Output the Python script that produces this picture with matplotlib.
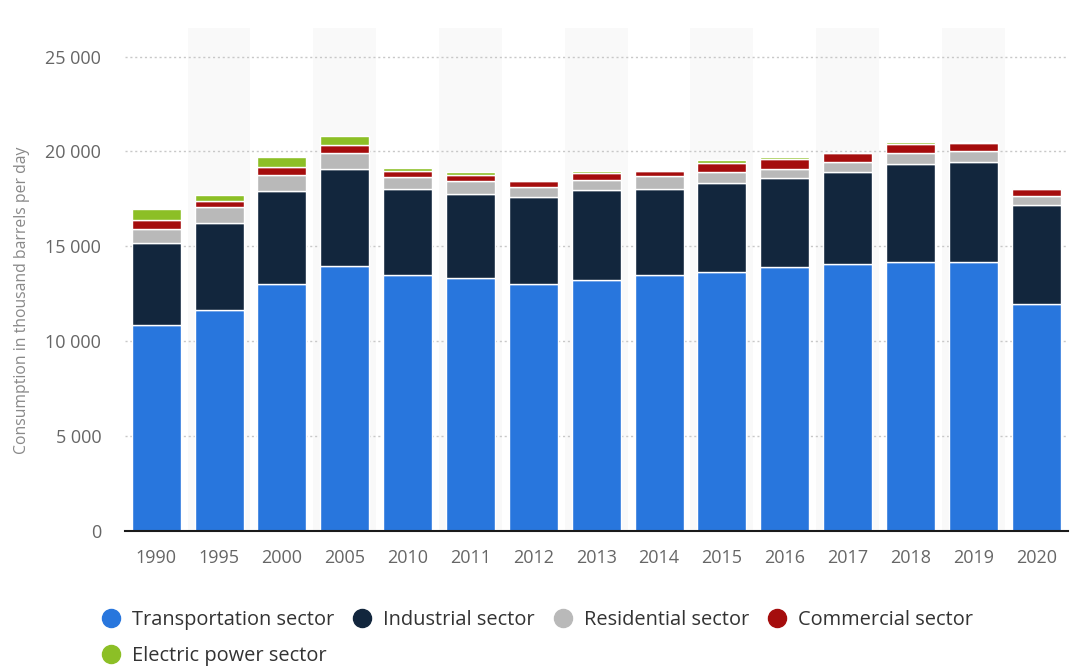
import matplotlib.pyplot as plt
from matplotlib.lines import Line2D
from matplotlib.ticker import FuncFormatter
import numpy as np

plt.rcParams['font.family'] = ['Open Sans', 'DejaVu Sans']

years = ['1990', '1995', '2000', '2005', '2010', '2011', '2012', '2013',
         '2014', '2015', '2016', '2017', '2018', '2019', '2020']

# thousand barrels per day
transportation = [10865, 11660, 13010, 13980, 13480, 13330, 13000, 13240,
                  13480, 13660, 13890, 14060, 14150, 14150, 11970]
industrial = [4310, 4570, 4920, 5115, 4555, 4450, 4610, 4710,
              4540, 4690, 4710, 4870, 5190, 5270, 5190]
residential = [740, 820, 810, 845, 635, 670, 490, 560,
               670, 580, 490, 490, 600, 580, 475]
commercial = [490, 340, 420, 400, 315, 315, 320, 330,
              300, 475, 510, 475, 475, 460, 405]
electric = [560, 300, 550, 475, 160, 160, 20, 140,
            30, 160, 120, 20, 105, 20, 10]

series = [
    ('Transportation sector', transportation, '#2876dd'),
    ('Industrial sector', industrial, '#12263d'),
    ('Residential sector', residential, '#b9b9b9'),
    ('Commercial sector', commercial, '#a50d0d'),
    ('Electric power sector', electric, '#8cbf26'),
]

fig = plt.figure(figsize=(10.85, 6.68), dpi=100)
ax = fig.add_axes([0.115, 0.205, 0.869, 0.753])

x = np.arange(len(years))

# alternating background columns
for i in x[1::2]:
    ax.axvspan(i - 0.5, i + 0.5, color='#f9f9f9', zorder=0, lw=0)

bottom = np.zeros(len(years))
for name, vals, col in series:
    ax.bar(x, vals, width=0.78, bottom=bottom, color=col, edgecolor='white',
           linewidth=1.0, zorder=3)
    bottom += np.array(vals)

ax.set_xlim(-0.5, len(years) - 0.5)
ax.set_ylim(0, 26500)
ax.set_yticks(range(0, 25001, 5000))
ax.yaxis.set_major_formatter(FuncFormatter(lambda v, p: f'{int(v):,}'.replace(',', ' ')))
ax.set_xticks(x)
ax.set_xticklabels(years)

ax.grid(axis='y', color='#c8c8c8', linestyle=(0, (1.5, 2)), linewidth=1, zorder=1)
for s in ['top', 'right', 'left']:
    ax.spines[s].set_visible(False)
ax.spines['bottom'].set_color('#1a1a1a')
ax.spines['bottom'].set_linewidth(1.5)
ax.spines['bottom'].set_zorder(4)
ax.tick_params(axis='both', length=0, colors='#666666', labelsize=13)
ax.tick_params(axis='y', pad=17)
ax.tick_params(axis='x', pad=13)

ax.set_ylabel('Consumption in thousand barrels per day', color='#888888',
              fontsize=11.3)
ax.yaxis.set_label_coords(-0.101, 0.459)

# legend: order so the column fill gives 4 on first row, 1 below
handles = [Line2D([], [], marker='o', linestyle='', markersize=13,
                  markerfacecolor=c, markeredgecolor=c) for _, _, c in series]
labels = [n for n, _, _ in series]
order = [0, 4, 1, 2, 3]
leg = fig.legend([handles[i] for i in order], [labels[i] for i in order],
                 loc='upper left', bbox_to_anchor=(0.082, 0.102), ncol=4,
                 frameon=False, fontsize=14.4, handletextpad=0.45,
                 columnspacing=0.8, labelspacing=0.83, handlelength=1.2,
                 borderpad=0)
for t in leg.get_texts():
    t.set_color('#333333')

fig.savefig('out.png', dpi=100)
